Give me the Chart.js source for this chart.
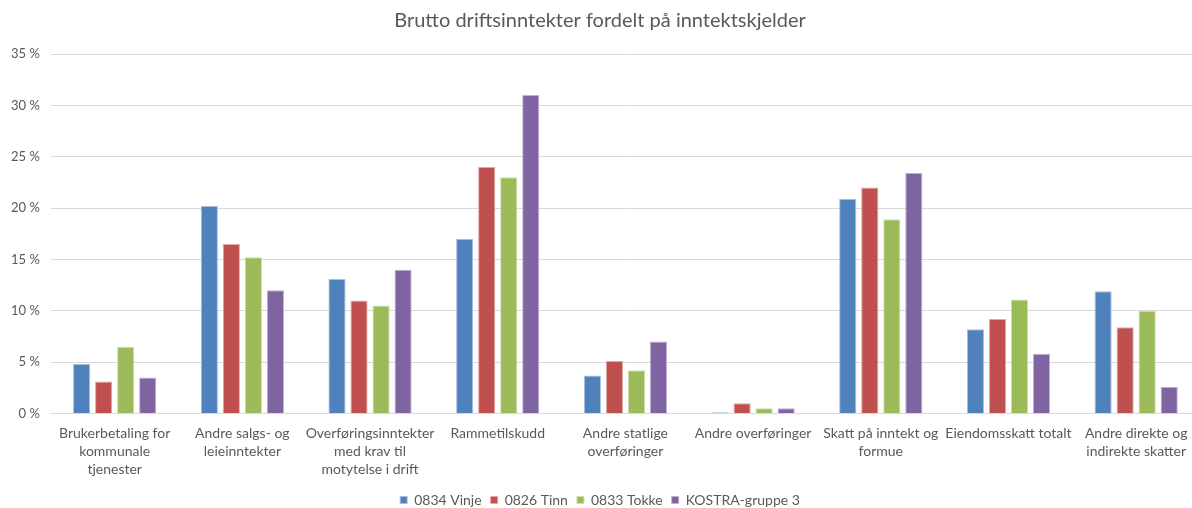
<!DOCTYPE html>
<html>
<head>
<meta charset="utf-8">
<script src="https://cdn.jsdelivr.net/npm/chart.js@4.4.1/dist/chart.umd.min.js"></script>
<style>
  body { margin: 0; background: #ffffff; overflow: hidden; }
  #wrap { width: 1192px; height: 508px; overflow: hidden; }
</style>
</head>
<body>
<div id="wrap"><canvas id="inntektChart" width="1200" height="508"></canvas></div>
<script>
// Kategorier (delt over flere linjer slik som i originalen)
const kategorier = [
  ["Brukerbetaling for", "kommunale", "tjenester"],
  ["Andre salgs- og", "leieinntekter"],
  ["Overføringsinntekter", "med krav til", "motytelse i drift"],
  ["Rammetilskudd"],
  ["Andre statlige", "overføringer"],
  ["Andre overføringer"],
  ["Skatt på inntekt og", "formue"],
  ["Eiendomsskatt totalt"],
  ["Andre direkte og", "indirekte skatter"],
];

// Andel i prosent
const vinje = [4.8, 20.2, 13.1, 17.0, 3.7, 0.1, 20.9, 8.2, 11.9];
const tinn = [3.1, 16.5, 11.0, 24.0, 5.1, 1.0, 22.0, 9.2, 8.4];
const tokke = [6.5, 15.2, 10.5, 23.0, 4.2, 0.5, 18.9, 11.1, 10.0];
const kostra = [3.5, 12.0, 14.0, 31.0, 7.0, 0.5, 23.4, 5.8, 2.6];

const yTicks = [0, 5, 10, 15, 20, 25, 30, 35];

const serier = [
  { label: "0834 Vinje", data: vinje, color: "#4F81BD", edge: "#A7C0DE" },
  { label: "0826 Tinn", data: tinn, color: "#C0504D", edge: "#E0A8A6" },
  { label: "0833 Tokke", data: tokke, color: "#9BBB59", edge: "#CDDDAC" },
  { label: "KOSTRA-gruppe 3", data: kostra, color: "#8064A2", edge: "#BFB1D0" },
];

const fontFamily = "Lato, 'Open Sans', sans-serif";
const textColor = "#595959";

const ctx = document.getElementById("inntektChart").getContext("2d");
new Chart(ctx, {
  type: "bar",
  data: {
    labels: kategorier,
    datasets: serier.map((s) => ({
      label: s.label,
      data: s.data,
      backgroundColor: s.color,
      borderColor: s.edge,
      borderWidth: 1,
      categoryPercentage: 0.69,
      barPercentage: 0.78,
    })),
  },
  options: {
    responsive: false,
    animation: false,
    layout: {
      padding: { left: 0, right: 0, top: 0, bottom: -9 },
    },
    plugins: {
      title: {
        display: true,
        text: "Brutto driftsinntekter fordelt på inntektskjelder",
        color: textColor,
        font: { family: fontFamily, size: 20, weight: "normal" },
        padding: { top: 9, bottom: 21 },
      },
      legend: {
        position: "bottom",
        labels: {
          color: textColor,
          font: { family: fontFamily, size: 14 },
          boxWidth: 7,
          boxHeight: 7,
          padding: 9,
        },
      },
      tooltip: { enabled: false },
    },
    scales: {
      y: {
        min: 0,
        max: 35,
        afterBuildTicks: (axis) => {
          axis.ticks = yTicks.map((v) => ({ value: v }));
        },
        ticks: {
          color: textColor,
          font: { family: fontFamily, size: 13 },
          padding: 11,
          callback: (value) => value + " %",
        },
        grid: {
          color: "#D9D9D9",
          drawTicks: false,
        },
        border: { display: false },
      },
      x: {
        // litt ekstra luft mellom kategorinavn og forklaring
        afterFit: (scale) => {
          scale.height += 2;
        },
        ticks: {
          color: textColor,
          font: { family: fontFamily, size: 14, lineHeight: 1.3 },
          padding: 3,
          maxRotation: 0,
          autoSkip: false,
        },
        grid: { display: false },
        border: { display: true, color: "#D9D9D9" },
      },
    },
  },
});
</script>
</body>
</html>
